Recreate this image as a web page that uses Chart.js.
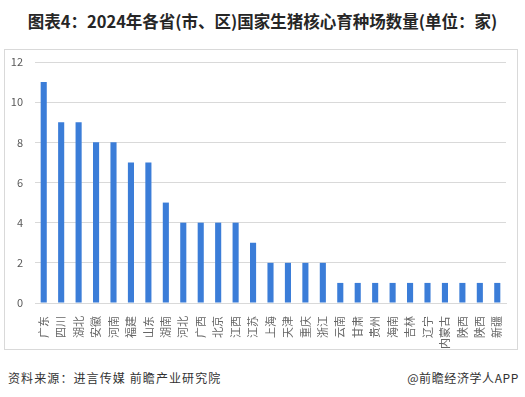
<!DOCTYPE html>
<html>
<head>
<meta charset="utf-8">
<script src="https://cdn.jsdelivr.net/npm/chart.js@4/dist/chart.umd.min.js"></script>
<style>
  html, body { margin: 0; padding: 0; background: #fff; }
  body { width: 525px; height: 397px; position: relative; overflow: hidden;
         font-family: "Noto Sans CJK SC", "Noto Sans", sans-serif; }
  #title { position: absolute; left: 0; top: 9px; width: 525px; text-align: center;
           font-size: 16.5px; font-weight: bold; color: #262626; }
  #box { position: absolute; left: 4px; top: 49px; width: 512px; height: 299px;
         border: 1px solid #d9d9d9; }
  #source { position: absolute; left: 8px; top: 369px; font-size: 12px; color: #333;
            letter-spacing: 1.1px; }
  #brand { position: absolute; right: 6px; top: 369px; font-size: 12px; color: #333;
           letter-spacing: 0.6px; }
</style>
</head>
<body>
<div id="title">图表4：2024年各省(市、区)国家生猪核心育种场数量(单位：家)</div>
<div id="box"><canvas id="chart" width="512" height="299"></canvas></div>
<div id="source">资料来源：进言传媒 前瞻产业研究院</div>
<div id="brand">@前瞻经济学人APP</div>
<script>
/* ---------- DATA ---------- */
const provinces = ["广东", "四川", "湖北", "安徽", "河南", "福建", "山东", "湖南", "河北",
  "广西", "北京", "江西", "江苏", "上海", "天津", "重庆", "浙江", "云南", "甘肃",
  "贵州", "海南", "吉林", "辽宁", "内蒙古", "陕西", "陕西", "新疆"];
const farmCounts = [11, 9, 9, 8, 8, 7, 7, 5, 4, 4, 4, 4, 3, 2, 2, 2, 2, 1, 1, 1, 1, 1, 1, 1, 1, 1, 1];
const yTicks = [0, 2, 4, 6, 8, 10, 12];

/* ---------- CHART ---------- */
const tickFont = { family: '"Noto Sans CJK SC", sans-serif', size: 11 };

new Chart(document.getElementById("chart"), {
  type: "bar",
  data: {
    labels: provinces,
    datasets: [{
      data: farmCounts,
      backgroundColor: "#3b7dd8",
      barPercentage: 0.7,
      categoryPercentage: 0.5
    }]
  },
  options: {
    responsive: false,
    animation: false,
    layout: { padding: { left: 0, right: 11, top: 12, bottom: 0 } },
    plugins: { legend: { display: false }, tooltip: { enabled: false } },
    scales: {
      x: {
        grid: { display: false },
        border: { color: "#d9d9d9" },
        ticks: { color: "#666", font: tickFont, minRotation: 90, maxRotation: 90,
                 autoSkip: false, padding: 5 },
        afterFit: (s) => { s.height = 46; }
      },
      y: {
        min: 0, max: 12,
        afterBuildTicks: (s) => { s.ticks = yTicks.map(v => ({ value: v })); },
        grid: { color: "#d9d9d9", drawTicks: false },
        border: { display: false },
        ticks: { color: "#595959", font: tickFont, padding: 12 },
        afterFit: (s) => { s.width = 30; s.paddingTop = 0; s.paddingBottom = 0; }
      }
    }
  }
});
</script>
</body>
</html>
